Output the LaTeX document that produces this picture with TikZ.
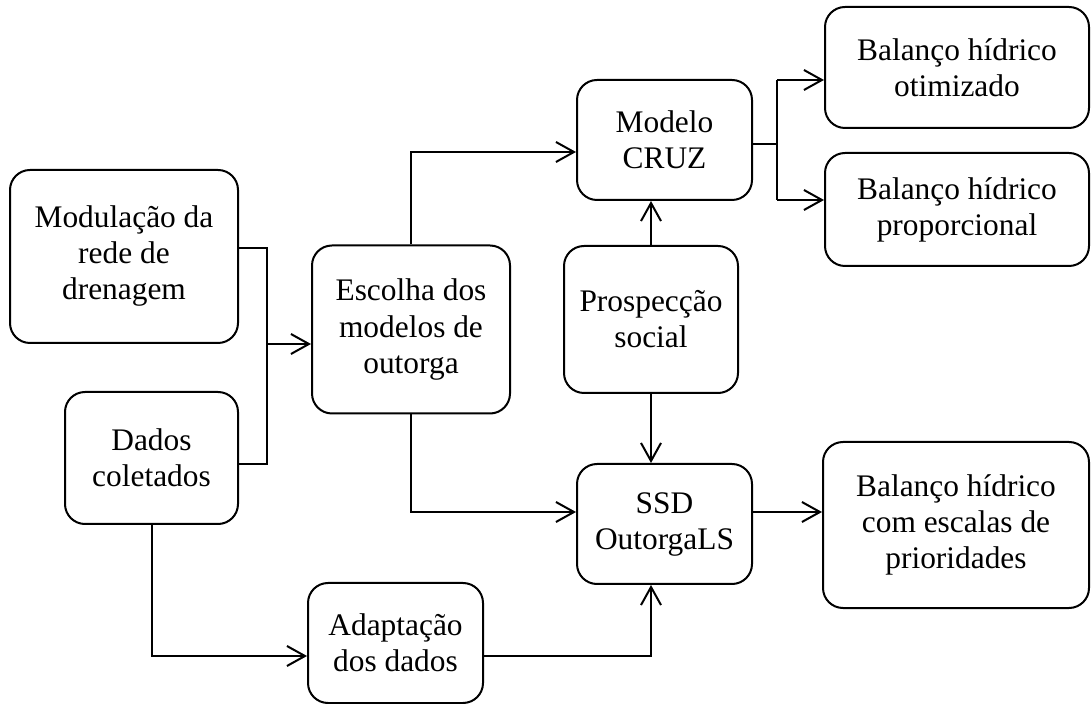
\documentclass[tikz,border=0pt]{standalone}
\usepackage{fontspec}
\setmainfont{Liberation Serif}
\usepackage{tikz}
\usetikzlibrary{arrows.meta,positioning}

\begin{document}
\begin{tikzpicture}[x=0.5pt,y=-0.5pt,
    box/.style={draw, line width=1pt, rounded corners=10pt, align=center,
        inner sep=0pt, font=\fontsize{15.7}{18}\selectfont},
    line/.style={line width=1pt},
    flow/.style={line width=1pt, -{Straight Barb[length=9pt,width=10pt]}}]
    \useasboundingbox (0,0) rectangle (1091,704);

    % Inputs
    \node[box, minimum width=114pt, minimum height=86.5pt] (modul) at (124,256.5) {Modulação da\\rede de\\drenagem};
    \node[box, minimum width=86.5pt, minimum height=66pt] (dados) at (151.5,458) {Dados\\coletados};

    % Middle column
    \node[box, minimum width=99pt, minimum height=84pt] (escolha) at (411,329.5) {Escolha dos\\modelos de\\outorga};
    \node[box, minimum width=87.5pt, minimum height=60pt] (adapt) at (395.5,643) {Adaptação\\dos dados};

    % Models
    \node[box, minimum width=87.5pt, minimum height=60pt] (cruz) at (664.5,140) {Modelo\\CRUZ};
    \node[box, minimum width=87pt, minimum height=73.5pt] (prosp) at (651,319.5) {Prospecção\\social};
    \node[box, minimum width=87.5pt, minimum height=60pt] (ssd) at (664.5,524) {SSD\\OutorgaLS};

    % Results
    \node[box, minimum width=132pt, minimum height=60.5pt] (otim) at (957,67.5) {Balanço hídrico\\otimizado};
    \node[box, minimum width=132pt, minimum height=56.5pt] (propc) at (957,209.5) {Balanço hídrico\\proporcional};
    \node[box, minimum width=133pt, minimum height=83pt] (escal) at (956,525) {Balanço hídrico\\com escalas de\\prioridades};

    % bend points
    \coordinate (jn) at (267,344);
    \coordinate (jt) at (267,248);
    \coordinate (jb) at (267,464);
    \coordinate (up) at (411,152);
    \coordinate (dn) at (411,512);
    \coordinate (lw) at (167,656);
    \coordinate (sp) at (777,144);
    \coordinate (sp1) at (777,80);
    \coordinate (sp2) at (777,200);

    % Connectors
    \draw[line] (modul.east |- jt) -- (jt) -- (jb) -- (dados.east |- jb);
    \draw[flow] (jn) -- (escolha.west |- jn);
    \draw[flow] (escolha.north) |- (cruz.west |- up);
    \draw[flow] (escolha.south) |- (ssd.west |- dn);
    \draw[flow] (prosp.north) -- (prosp.north |- cruz.south);
    \draw[flow] (prosp.south) -- (prosp.south |- ssd.north);
    \draw[flow] (dados.south) |- (adapt.west |- lw);
    \draw[flow] (adapt.east |- lw) -| (prosp.south |- ssd.south);
    \draw[line] (cruz.east |- sp) -- (sp);
    \draw[line] (sp1) -- (sp2);
    \draw[flow] (sp1) -- (otim.west |- sp1);
    \draw[flow] (sp2) -- (propc.west |- sp2);
    \draw[flow] (ssd.east |- dn) -- (escal.west |- dn);
\end{tikzpicture}
\end{document}
